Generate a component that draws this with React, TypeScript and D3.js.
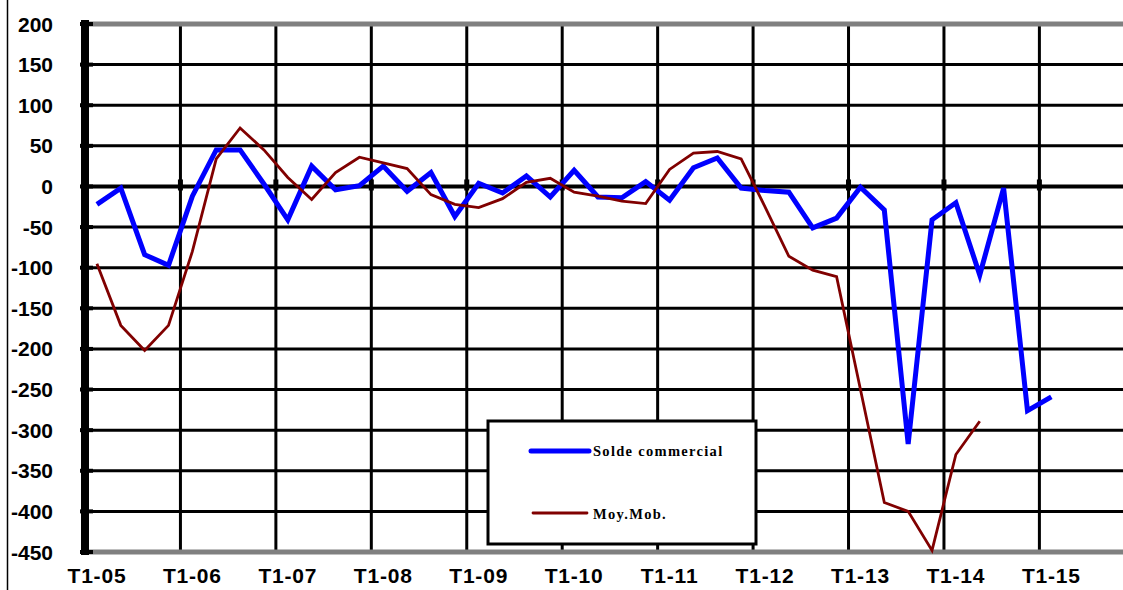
import React from 'react';
import * as d3 from 'd3';

// quarters T1-05 .. T4-15
const years = ['05', '06', '07', '08', '09', '10', '11', '12', '13', '14', '15'];
const quarters = ['T1', 'T2', 'T3', 'T4'];
const categories = years.flatMap(y => quarters.map(q => `${q}-${y}`));

const soldeCommercial = [
  -22, -2, -84, -97, -12, 45, 45, 3, -41, 25, -4, 1, 25, -6, 17, -37, 4, -8, 13, -13,
  20, -13, -14, 6, -17, 23, 35, -2, -5, -7, -51, -39, -1, -29, -317, -41, -20, -109, -2, -276, -259,
];
const moyMob = [
  -95, -171, -202, -171, -80, 34, 72, 45, 11, -16, 17, 36, 29, 22, -10, -22, -26, -15, 5, 10,
  -7, -12, -18, -21, 21, 41, 43, 34, -25, -86, -103, -111, -250, -389, -400, -448, -330, -289,
];
const yTicks = d3.range(-450, 201, 50);

const W = 1123;
const H = 590;
const plot = { left: 85, top: 24, bottom: 552, step: 23.86 };
const font = '"Liberation Sans", Arial, sans-serif';
const serif = '"Liberation Serif", "Times New Roman", serif';

export default function App() {
  const x = d3.scaleBand<string>()
    .domain(categories)
    .range([plot.left, plot.left + categories.length * plot.step]);
  const y = d3.scaleLinear().domain([-450, 200]).range([plot.bottom, plot.top]);
  const cx = (i: number) => (x(categories[i]) as number) + x.bandwidth() / 2;

  const line = d3.line<number>()
    .x((_, i) => cx(i))
    .y(d => y(d));

  const majorCats = categories.filter(c => c.startsWith('T1'));
  const right = W + 20;

  return (
    <div style={{ position: 'absolute', left: 0, top: 0, width: W, height: H, background: '#fff' }}>
      <svg width={W} height={H} style={{ display: 'block' }}>
        <rect x={0} y={0} width={W} height={H} fill="#fff" />
        <line x1={7.5} x2={7.5} y1={0} y2={H} stroke="#000" strokeWidth={1.5} />

        {/* horizontal grid */}
        {yTicks.filter(t => t !== 200 && t !== -450).map(t => (
          <line key={t} x1={plot.left} x2={right} y1={y(t)} y2={y(t)}
            stroke="#000" strokeWidth={t === 0 ? 4 : 3} />
        ))}
        {/* vertical grid */}
        {majorCats.slice(1).map(c => (
          <line key={c} x1={x(c) as number} x2={x(c) as number} y1={plot.top} y2={plot.bottom}
            stroke="#000" strokeWidth={3} />
        ))}
        {/* ticks on zero line */}
        {majorCats.slice(1).map(c => (
          <line key={'t' + c} x1={x(c) as number} x2={x(c) as number} y1={y(0) - 7} y2={y(0) + 4}
            stroke="#000" strokeWidth={5} />
        ))}

        {/* top / bottom borders */}
        <line x1={plot.left} x2={right} y1={plot.top} y2={plot.top} stroke="#808080" strokeWidth={5} />
        <line x1={plot.left} x2={right} y1={plot.bottom} y2={plot.bottom} stroke="#808080" strokeWidth={5} />

        {/* y axis */}
        <line x1={plot.left} x2={plot.left} y1={plot.top - 4} y2={plot.bottom + 3} stroke="#000" strokeWidth={8} />
        {yTicks.map(t => (
          <line key={'yt' + t} x1={plot.left - 5} x2={plot.left + 8} y1={y(t)} y2={y(t)}
            stroke="#000" strokeWidth={4} />
        ))}
        {yTicks.map(t => (
          <text key={'yl' + t} x={53} y={y(t)} dy="0.36em" textAnchor="end"
            fontFamily={font} fontWeight="bold" fontSize={21} fill="#000">{t}</text>
        ))}

        {/* x labels */}
        {majorCats.map(c => (
          <text key={'xl' + c} x={(x(c) as number) + x.bandwidth() / 2} y={583} textAnchor="middle"
            fontFamily={font} fontWeight="bold" fontSize={21} letterSpacing={0.8} fill="#000">{c}</text>
        ))}

        {/* series */}
        <path d={line(soldeCommercial) || ''} fill="none" stroke="#0000ff" strokeWidth={5} strokeLinejoin="miter" />
        <path d={line(moyMob) || ''} fill="none" stroke="#800000" strokeWidth={2.8} />

        {/* legend */}
        <g>
          <rect x={488} y={421} width={268} height={123} fill="#fff" stroke="#000" strokeWidth={3} />
          <line x1={531} x2={589} y1={451} y2={451} stroke="#0000ff" strokeWidth={5} strokeLinecap="round" />
          <text x={593} y={456} fontFamily={serif} fontWeight="bold"
            fontSize={14.5} letterSpacing={1.3} fill="#000">Solde commercial</text>
          <line x1={533} x2={587} y1={513} y2={513} stroke="#800000" strokeWidth={2.8} strokeLinecap="round" />
          <text x={593} y={519} fontFamily={serif} fontWeight="bold"
            fontSize={14.5} letterSpacing={1.3} fill="#000">Moy.Mob.</text>
        </g>
      </svg>
    </div>
  );
}
